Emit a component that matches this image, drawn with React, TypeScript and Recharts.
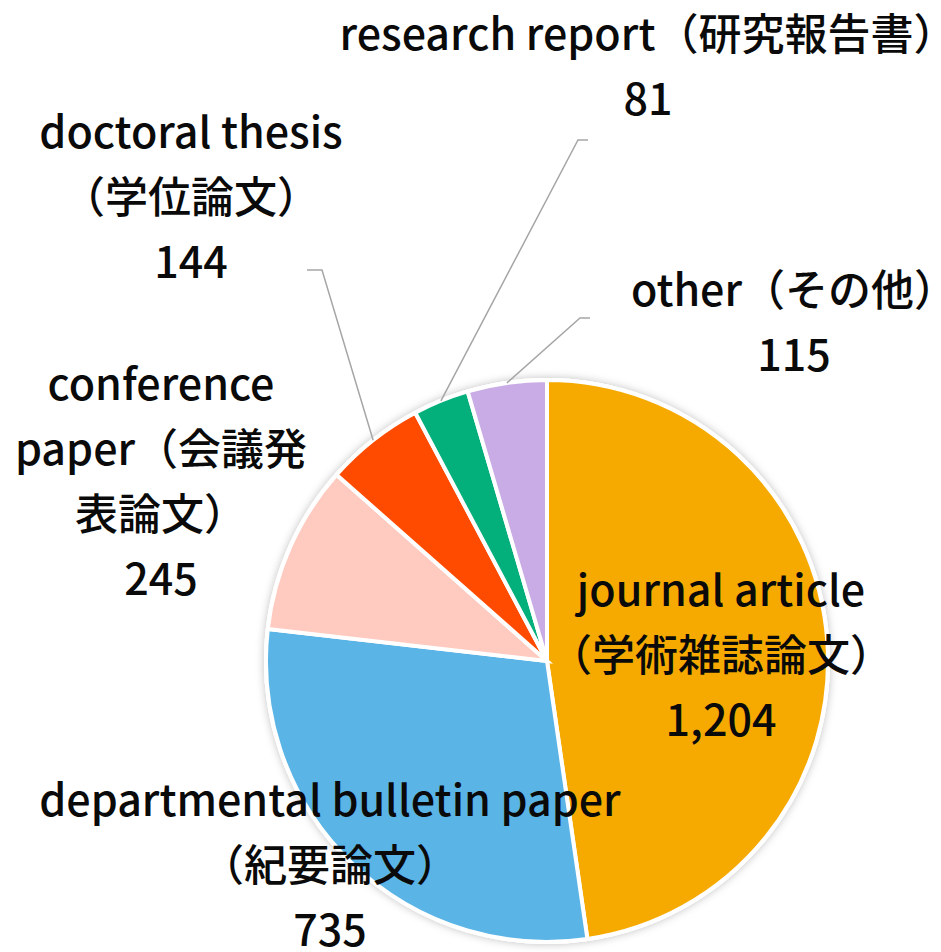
import React from 'react';
import { PieChart, Pie, Cell } from 'recharts';

const categories = ['journal article', 'departmental bulletin paper', 'conference paper', 'doctoral thesis', 'research report', 'other'];
const jaNames = ['学術雑誌論文', '紀要論文', '会議発表論文', '学位論文', '研究報告書', 'その他'];
const counts = [1204, 735, 245, 144, 81, 115];
const colors = ['#F6AA00', '#5AB4E6', '#FFCABF', '#FF4B00', '#03AF7A', '#C9ACE6'];

// label text wrapping (content) per category
const labelLines: string[][] = [
  ['journal article', '（学術雑誌論文）'],
  ['departmental bulletin paper', '（紀要論文）'],
  ['conference', 'paper（会議発', '表論文）'],
  ['doctoral thesis', '（学位論文）'],
  ['research report（研究報告書）'],
  ['other（その他）'],
];

// layout: label center x, first baseline y, leader elbow
const labelLayout = [
  { x: 721, y: 606, line: null as null | number[] },
  { x: 330, y: 816, line: null as null | number[] },
  { x: 161, y: 400, line: null as null | number[] },
  { x: 191, y: 148, line: [322, 270, 307, 270] },
  { x: 648, y: 50, line: [578, 140, 588, 140] },
  { x: 794, y: 306, line: [580, 318, 590, 318] },
];

const data = categories.map((c, i) => ({ name: c, ja: jaNames[i], value: counts[i] }));

const RAD = Math.PI / 180;
const LINE_H = 65;

const renderLabel = (props: any) => {
  const { cx, cy, midAngle, outerRadius, index, value } = props;
  const lay = labelLayout[index];
  const lines = [...labelLines[index], value.toLocaleString('en-US')];
  let leader = null;
  if (lay.line) {
    const sx = cx + outerRadius * Math.cos(-midAngle * RAD);
    const sy = cy + outerRadius * Math.sin(-midAngle * RAD);
    leader = (
      <polyline
        points={`${sx},${sy} ${lay.line[0]},${lay.line[1]} ${lay.line[2]},${lay.line[3]}`}
        fill="none"
        stroke="#A6A6A6"
        strokeWidth={1.5}
      />
    );
  }
  return (
    <g key={`lbl-${index}`}>
      {leader}
      <text
        x={lay.x}
        y={lay.y}
        textAnchor="middle"
        fill="#0a0a0a"
        fontSize={43}
        fontWeight={500}
        fontFamily="'Noto Sans CJK JP', 'Noto Sans', sans-serif"
      >
        {lines.map((l, i) => (
          <tspan key={i} x={lay.x} y={lay.y + i * LINE_H}>{l}</tspan>
        ))}
      </text>
    </g>
  );
};

export default function App() {
  return (
    <div style={{ position: 'absolute', left: 0, top: 0, background: '#fff' }}>
      <PieChart width={941} height={952} margin={{ top: 0, right: 0, bottom: 0, left: 0 }}>
        <defs>
          <filter id="pieShadow" x="-10%" y="-10%" width="120%" height="120%">
            <feDropShadow dx="0" dy="0" stdDeviation="4" floodColor="#000" floodOpacity="0.25" />
          </filter>
        </defs>
        <Pie
          data={[{ value: 1 }]}
          dataKey="value"
          cx={547}
          cy={661}
          outerRadius={283}
          startAngle={90}
          endAngle={-270}
          fill="#fff"
          stroke="none"
          isAnimationActive={false}
          style={{ filter: 'url(#pieShadow)' }}
          label={false}
          labelLine={false}
        />
        <Pie
          data={data}
          dataKey="value"
          nameKey="name"
          cx={547}
          cy={661}
          outerRadius={281}
          startAngle={90}
          endAngle={-270}
          stroke="#fff"
          strokeWidth={4}
          isAnimationActive={false}
          label={renderLabel}
          labelLine={false}
        >
          {data.map((d, i) => (
            <Cell key={d.name} fill={colors[i]} />
          ))}
        </Pie>
      </PieChart>
    </div>
  );
}
